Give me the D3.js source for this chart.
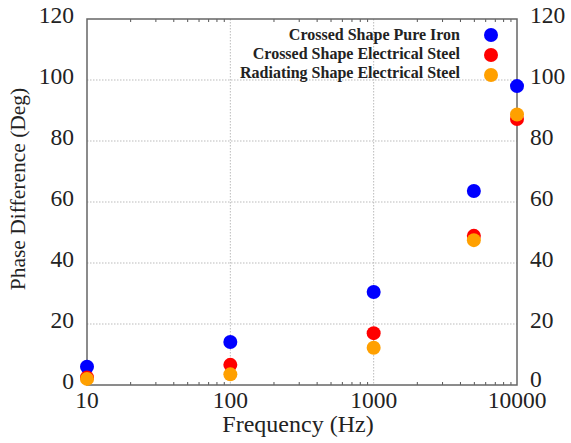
<!DOCTYPE html>
<html>
<head>
<meta charset="utf-8">
<script src="https://cdn.jsdelivr.net/npm/d3@7"></script>
<style>
  body { margin: 0; background: #fff; }
  text { font-family: "Liberation Serif", "Times New Roman", serif; fill: #222; }
</style>
</head>
<body>
<svg width="571" height="443"></svg>
<script>
// frequencies (Hz) and phase difference (deg) per sample
let freqs = [10, 100, 1000, 5000, 10000];
let pureIron = [6, 14.1, 30.5, 63.6, 98];
let crossedSteel = [2.5, 6.6, 17, 48.9, 87.2];
let radiatingSteel = [2, 3.5, 12.2, 47.5, 88.7];
let seriesNames = ['Crossed Shape Pure Iron', 'Crossed Shape Electrical Steel', 'Radiating Shape Electrical Steel'];
let seriesColors = ['#0000ff', '#ff0000', '#ffa000'];
let xTicks = [10, 100, 1000, 10000];
let yTicks = [0, 20, 40, 60, 80, 100, 120];

let svg = d3.select('svg');
let pLeft = 87, pRight = 517, pTop = 19, pBottom = 385;

let x = d3.scaleLog().domain([10, 10000]).range([pLeft, pRight]);
let y = d3.scaleLinear().domain([0, 120]).range([pBottom, pTop]);

// dotted grid
svg.append('g')
  .selectAll('line')
  .data(yTicks.slice(1, -1))
  .enter()
  .append('line')
  .attr('x1', pLeft).attr('x2', pRight)
  .attr('y1', d => y(d)).attr('y2', d => y(d))
  .attr('stroke', '#bbb').attr('stroke-width', 1)
  .attr('stroke-dasharray', '1.5,1.5');
svg.append('g')
  .selectAll('line')
  .data(xTicks.slice(1, -1))
  .enter()
  .append('line')
  .attr('x1', d => x(d)).attr('x2', d => x(d))
  .attr('y1', pTop).attr('y2', pBottom)
  .attr('stroke', '#bbb').attr('stroke-width', 1)
  .attr('stroke-dasharray', '1.5,1.5');

// minor log ticks on top and bottom (pointing inward)
let minor = x.ticks().filter(d => xTicks.indexOf(d) < 0);
svg.append('g')
  .attr('transform', `translate(0,${pBottom})`)
  .call(d3.axisTop(x).tickValues(minor).tickSize(3).tickFormat(''))
  .call(g => g.select('.domain').remove())
  .call(g => g.selectAll('line').attr('stroke', '#555'));
svg.append('g')
  .attr('transform', `translate(0,${pTop})`)
  .call(d3.axisBottom(x).tickValues(minor).tickSize(3).tickFormat(''))
  .call(g => g.select('.domain').remove())
  .call(g => g.selectAll('line').attr('stroke', '#555'));

// frame
svg.append('rect')
  .attr('x', pLeft).attr('y', pTop)
  .attr('width', pRight - pLeft).attr('height', pBottom - pTop)
  .attr('fill', 'none').attr('stroke', '#666').attr('stroke-width', 1.5);

// tick labels
svg.append('g')
  .selectAll('text')
  .data(xTicks)
  .enter()
  .append('text')
  .attr('x', d => x(d)).attr('y', 408)
  .attr('text-anchor', 'middle')
  .attr('font-size', 23.5)
  .text(d => d);
svg.append('g')
  .selectAll('text')
  .data(yTicks)
  .enter()
  .append('text')
  .attr('x', 74).attr('y', d => y(d) + 3.5)
  .attr('text-anchor', 'end')
  .attr('font-size', 23.5)
  .text(d => d);
// right-hand labels (the bottom "0" touches 10000, as in the original)
svg.append('g')
  .selectAll('text')
  .data(yTicks)
  .enter()
  .append('text')
  .attr('x', 530).attr('y', d => y(d) + (d === 0 ? 1.5 : 3.5))
  .attr('text-anchor', 'start')
  .attr('font-size', 23.5)
  .text(d => d);

// axis titles
svg.append('text')
  .attr('x', 298).attr('y', 432)
  .attr('text-anchor', 'middle')
  .attr('font-size', 24)
  .text('Frequency (Hz)');
svg.append('text')
  .attr('transform', 'translate(25,189) rotate(-90)')
  .attr('text-anchor', 'middle')
  .attr('font-size', 21.5)
  .text('Phase Difference (Deg)');

// points
let allSeries = [pureIron, crossedSteel, radiatingSteel];
allSeries.forEach((vals, i) => {
  svg.append('g')
    .selectAll('circle')
    .data(vals)
    .enter()
    .append('circle')
    .attr('cx', (d, j) => x(freqs[j]))
    .attr('cy', d => y(d))
    .attr('r', 7)
    .attr('fill', seriesColors[i]);
});

// legend
let legend = svg.append('g');
seriesNames.forEach((name, i) => {
  legend.append('text')
    .attr('x', 460).attr('y', 39.5 + i * 19)
    .attr('text-anchor', 'end')
    .attr('font-size', 16)
    .attr('font-weight', 'bold')
    .text(name);
  legend.append('circle')
    .attr('cx', 491).attr('cy', 35 + i * 20)
    .attr('r', 7)
    .attr('fill', seriesColors[i]);
});
</script>
</body>
</html>
